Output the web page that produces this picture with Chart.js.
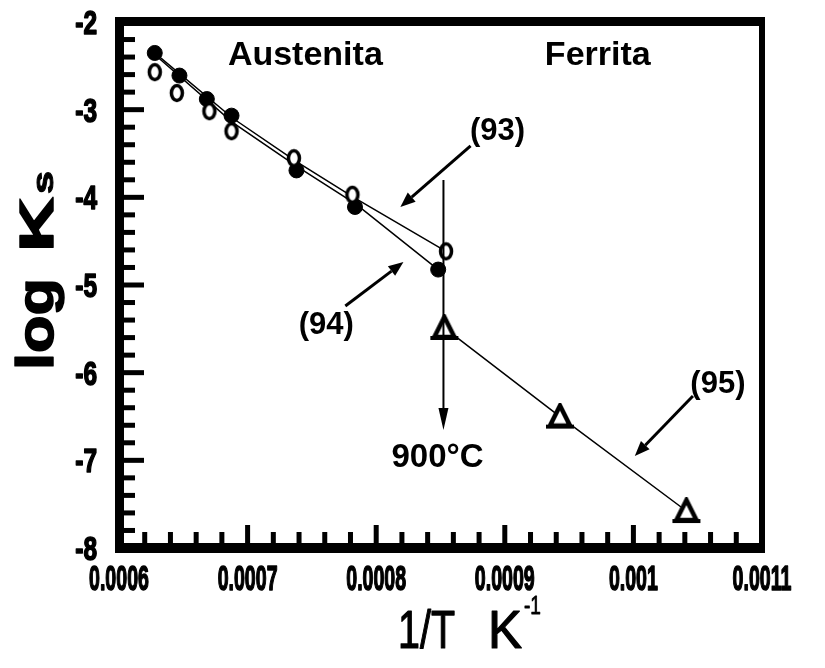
<!DOCTYPE html>
<html>
<head>
<meta charset="utf-8">
<script src="https://cdn.jsdelivr.net/npm/chart.js@4.4.0/dist/chart.umd.min.js"></script>
<style>
  html, body { margin: 0; padding: 0; background: #fff; }
  #wrap { width: 825px; height: 668px; }
</style>
</head>
<body>
<div id="wrap"><canvas id="ksChart" width="825" height="668"></canvas></div>
<script>
// austenite, filled circles
var austFilledX = [0.0006278, 0.000647, 0.0006683, 0.0006875, 0.000738, 0.0007835, 0.0008482];
var austFilledY = [-2.353, -2.611, -2.879, -3.068, -3.693, -4.11, -4.824];
// austenite, open circles
var austOpenX = [0.0006278, 0.000645, 0.0006703, 0.0006875, 0.000736, 0.0007815, 0.0008543];
var austOpenY = [-2.572, -2.81, -3.018, -3.246, -3.554, -3.971, -4.616];
// ferrite, triangles (95)
var ferritaX = [0.000853, 0.0009429, 0.0010412];
var ferritaY = [-5.49, -6.501, -7.578];
// lines (93) and (94)
var line93X = [0.0006238, 0.0006885, 0.000738, 0.0007825, 0.0008543];
var line93Y = [-2.304, -3.098, -3.594, -4.001, -4.616];
var line94X = [0.0006248, 0.0006885, 0.000738, 0.0007845, 0.0008482];
var line94Y = [-2.333, -3.147, -3.643, -4.08, -4.824];

var xTicks = [0.0006, 0.0007, 0.0008, 0.0009, 0.001, 0.0011];
var xTickLabels = ["0.0006", "0.0007", "0.0008", "0.0009", "0.001", "0.0011"];
var yTicks = [-8, -7, -6, -5, -4, -3, -2];
var yTickLabels = ["-8", "-7", "-6", "-5", "-4", "-3", "-2"];

// annotations: [text, x, y]
var labels = [
    ["Austenita", 0.0007449, -2.388],
    ["Ferrita", 0.0009723, -2.388],
    ["(93)", 0.0008944, -3.243],
    ["(94)", 0.0007612, -5.456],
    ["(95)", 0.0010657, -6.129],
    ["900\u00b0C", 0.0008477, -6.973]
];
// arrows: [fromX, fromY, toX, toY]
var arrows = [
    [0.0008734, -3.414, 0.0008188, -4.11],
    [0.000776, -5.239, 0.0008212, -4.738],
    [0.0010463, -6.266, 0.0010011, -6.95],
    [0.0008523, -3.802, 0.0008523, -6.654]
];

function pts(xs, ys) {
    var out = [];
    for (var i = 0; i < xs.length; i++) out.push({x: xs[i], y: ys[i]});
    return out;
}

var FONT = "'Liberation Sans', Arial, sans-serif";

// draw text squeezed horizontally by factor sx, optional extra stroke for weight
function drawScaled(ctx, text, x, y, font, sx, align, heavy) {
    ctx.save();
    ctx.font = font;
    var w = ctx.measureText(text).width * sx;
    var x0 = x;
    if (align === 'center') x0 = x - w / 2;
    else if (align === 'right') x0 = x - w;
    ctx.translate(x0, y);
    ctx.scale(sx, 1);
    ctx.textAlign = 'left';
    ctx.textBaseline = 'alphabetic';
    ctx.fillText(text, 0, 0);
    if (heavy) {
        ctx.lineWidth = heavy;
        ctx.lineJoin = 'round';
        ctx.strokeText(text, 0, 0);
    }
    ctx.restore();
}

function drawFit(ctx, text, x, y, font, width, heavy) {
    ctx.save();
    ctx.font = font;
    var w = ctx.measureText(text).width;
    ctx.restore();
    drawScaled(ctx, text, x, y, font, width / w, 'left', heavy);
}

function arrowLine(ctx, x1, y1, x2, y2, lw, headLen, headW) {
    var a = Math.atan2(y2 - y1, x2 - x1);
    var bx = x2 - headLen * Math.cos(a), by = y2 - headLen * Math.sin(a);
    ctx.lineWidth = lw;
    ctx.beginPath();
    ctx.moveTo(x1, y1);
    ctx.lineTo(bx, by);
    ctx.stroke();
    ctx.beginPath();
    ctx.moveTo(x2, y2);
    ctx.lineTo(bx + headW * Math.sin(a), by - headW * Math.cos(a));
    ctx.lineTo(bx - headW * Math.sin(a), by + headW * Math.cos(a));
    ctx.closePath();
    ctx.fill();
}

// marker images
function openMarker() {
    var c = document.createElement('canvas');
    c.width = 18; c.height = 20;
    var g = c.getContext('2d');
    g.beginPath();
    g.ellipse(9, 10, 5.5, 7.5, 0, 0, Math.PI * 2);
    g.fillStyle = '#fff';
    g.fill();
    g.lineWidth = 3.5;
    g.strokeStyle = '#000';
    g.stroke();
    return c;
}
function triMarker() {
    var c = document.createElement('canvas');
    c.width = 30; c.height = 28;
    var g = c.getContext('2d');
    g.beginPath();
    g.moveTo(15, 3);
    g.lineTo(5, 23);
    g.lineTo(25, 23);
    g.closePath();
    g.fillStyle = '#fff';
    g.fill();
    g.lineWidth = 4.5;
    g.strokeStyle = '#000';
    g.stroke();
    g.fillStyle = '#000';
    g.fillRect(1, 22, 28, 4);
    return c;
}

var framePlugin = {
    id: 'frame',
    beforeDatasetsDraw: function(chart) {
        var ctx = chart.ctx, a = chart.chartArea;
        var xs = chart.scales.x, ys = chart.scales.y;
        ctx.save();
        ctx.fillStyle = '#000';
        // inward ticks, bottom
        for (var i = 1; i < 25; i++) {
            var px = xs.getPixelForValue(0.0006 + i * 0.00002);
            var len = (i % 5 === 0) ? 23 : 16;
            ctx.fillRect(px - 2.5, a.bottom - len, 5, len);
        }
        // inward ticks, left
        for (var j = 1; j < 30; j++) {
            var py = ys.getPixelForValue(-8 + j * 0.2);
            var l2 = (j % 5 === 0) ? 25 : 16;
            ctx.fillRect(a.left, py - 2.5, l2, 5);
        }
        ctx.restore();
    },
    afterDatasetsDraw: function(chart) {
        var ctx = chart.ctx, a = chart.chartArea;
        var xs = chart.scales.x, ys = chart.scales.y;
        ctx.save();
        ctx.fillStyle = '#000';
        ctx.strokeStyle = '#000';
        // frame
        ctx.fillRect(a.left - 4, a.top - 5, 9, a.bottom - a.top + 10);
        ctx.fillRect(a.left - 4, a.bottom - 5, a.right - a.left + 7, 10);
        ctx.fillRect(a.left - 4, a.top - 5, a.right - a.left + 7, 9);
        ctx.fillRect(a.right - 3, a.top - 5, 6, a.bottom - a.top + 10);

        // tick labels
        xTicks.forEach(function(v, k) {
            drawScaled(ctx, xTickLabels[k], xs.getPixelForValue(v), a.bottom + 42, 'bold 35px ' + FONT, 0.56, 'center', 1.6);
        });
        yTicks.forEach(function(v, k) {
            drawScaled(ctx, yTickLabels[k], 97, ys.getPixelForValue(v) + 12, 'bold 34px ' + FONT, 0.72, 'right', 1.6);
        });

        arrows.forEach(function(ar, k) {
            var x1 = xs.getPixelForValue(ar[0]), y1 = ys.getPixelForValue(ar[1]);
            var x2 = xs.getPixelForValue(ar[2]), y2 = ys.getPixelForValue(ar[3]);
            if (k === 3) arrowLine(ctx, x1, y1, x2, y2, 2, 22, 5);
            else arrowLine(ctx, x1, y1, x2, y2, 3, 15, 6);
        });

        ctx.textAlign = 'center';
        ctx.textBaseline = 'middle';
        labels.forEach(function(lb) {
            var x = xs.getPixelForValue(lb[1]), y = ys.getPixelForValue(lb[2]);
            if (lb[0] === 'Austenita' || lb[0] === 'Ferrita') ctx.font = 'bold 34px ' + FONT;
            else if (lb[0].charAt(0) === '(') ctx.font = 'bold 31px ' + FONT;
            else ctx.font = 'bold 33px ' + FONT;
            ctx.fillText(lb[0], x, y);
        });

        // y title: log Ks (rotated)
        ctx.save();
        ctx.translate(53, 370);
        ctx.rotate(-Math.PI / 2);
        drawFit(ctx, 'log', 0, 0, 'bold 52px ' + FONT, 92, 1.5);
        drawFit(ctx, 'K', 118, 0, 'bold 48px ' + FONT, 55, 1.5);
        drawFit(ctx, 's', 176, 0, 'bold 30px ' + FONT, 23, 1);
        ctx.restore();

        // x title: 1/T  K^-1
        drawFit(ctx, '1/T', 398, 648, '53px ' + FONT, 57, 1.2);
        drawFit(ctx, 'K', 488, 648, '53px ' + FONT, 34, 1.2);
        drawFit(ctx, '-1', 524, 614, '25px ' + FONT, 17, 0.8);
        ctx.restore();
    }
};

var ksConfig = {
    type: 'scatter',
    data: {
        datasets: [
            {
                label: 'open',
                data: pts(austOpenX, austOpenY),
                pointStyle: openMarker(),
                showLine: false
            },
            {
                label: 'filled',
                data: pts(austFilledX, austFilledY),
                pointStyle: 'circle',
                pointRadius: 7.5,
                pointBorderWidth: 1,
                pointBackgroundColor: '#000',
                pointBorderColor: '#000',
                showLine: false
            },
            {
                label: '(95)',
                data: pts(ferritaX, ferritaY),
                pointStyle: triMarker(),
                borderColor: '#000',
                borderWidth: 1.5,
                showLine: true
            },
            {
                label: '(93)',
                data: pts(line93X, line93Y),
                pointRadius: 0,
                borderColor: '#000',
                borderWidth: 1.5,
                showLine: true
            },
            {
                label: '(94)',
                data: pts(line94X, line94Y),
                pointRadius: 0,
                borderColor: '#000',
                borderWidth: 1.5,
                showLine: true
            }
        ]
    },
    options: {
        responsive: false,
        animation: false,
        layout: { padding: { top: 22, right: 63, left: 0, bottom: 0 } },
        plugins: {
            legend: { display: false },
            tooltip: { enabled: false }
        },
        scales: {
            x: {
                type: 'linear',
                min: 0.0006,
                max: 0.0011,
                afterFit: function(scale) {
                    scale.height = 120;
                    scale.paddingLeft = scale.paddingRight = scale.paddingTop = scale.paddingBottom = 0;
                },
                grid: { display: false, drawTicks: false },
                border: { display: false },
                ticks: { display: false }
            },
            y: {
                type: 'linear',
                min: -8,
                max: -2,
                afterFit: function(scale) {
                    scale.width = 119;
                    scale.paddingLeft = scale.paddingRight = scale.paddingTop = scale.paddingBottom = 0;
                },
                grid: { display: false, drawTicks: false },
                border: { display: false },
                ticks: { display: false }
            }
        }
    },
    plugins: [framePlugin]
};

var ksChart = new Chart(document.getElementById('ksChart').getContext('2d'), ksConfig);
</script>
</body>
</html>
